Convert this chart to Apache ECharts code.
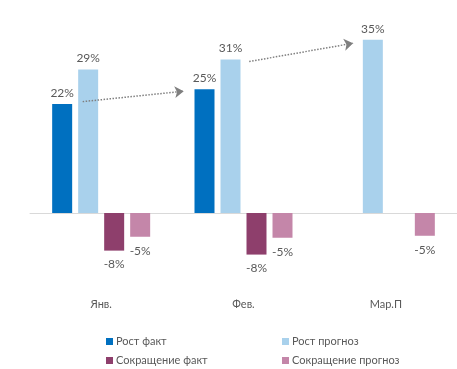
<!DOCTYPE html>
<html>
<head>
<meta charset="utf-8">
<script src="https://cdn.jsdelivr.net/npm/echarts@6/dist/echarts.min.js"></script>
<style>html,body{margin:0;padding:0;background:#fff}#c{width:457px;height:369px}</style>
</head>
<body>
<div id="c"></div>
<script>
var categories = ['Янв.', 'Фев.', 'Мар.П'];
var growthFact = [22, 25, null];
var growthForecast = [29, 31, 35];
var declineFact = [-7.6, -8.4, null];
var declineForecast = [-4.8, -5, -4.6];
var seriesNames = ['Рост факт', 'Рост прогноз', 'Сокращение факт', 'Сокращение прогноз'];
// trend arrows: [categoryPosition, value] (category units, 0..3)
var arrowFrom = [[0.37, 22.5], [1.54, 30.6]];
var arrowTo = [[1.08, 24.6], [2.27, 34.3]];

var colors = ['#0070C0', '#A9D1EC', '#8E3F6C', '#C486A9'];
var txt = '#595959';
var font = 'Lato';

var chart = echarts.init(document.getElementById('c'), null, {renderer: 'canvas'});

function barSeries(name, data, color, neg) {
  return {
    name: name, type: 'bar', data: data, barWidth: 20, barGap: '30%',
    itemStyle: {color: color},
    label: {
      show: true, position: neg ? 'bottom' : 'top', distance: neg ? 8 : 5,
      color: txt, fontSize: 12, fontFamily: font,
      formatter: function (p) { return p.value == null ? '' : Math.round(p.value) + '%'; }
    }
  };
}

var arrows = arrowFrom.map(function (f, i) { return {coords: [f, arrowTo[i]]}; });

var legendPos = [[106, 336], [282, 336], [106, 355], [282, 355]];
var legends = seriesNames.map(function (n, i) {
  return {
    data: [n], left: legendPos[i][0], top: legendPos[i][1], padding: 0,
    itemWidth: 7, itemHeight: 7, icon: 'rect',
    textStyle: {color: txt, fontSize: 11, fontFamily: font, padding: [0, 0, 0, -2]}
  };
});

chart.setOption({
  animation: false,
  grid: {left: 30, right: 0, top: 15, bottom: 106.5},
  xAxis: [{
    type: 'category', data: categories,
    axisLine: {show: true, onZero: true, lineStyle: {color: '#D9D9D9', width: 1}},
    axisTick: {show: false},
    axisLabel: {color: txt, fontSize: 11, fontFamily: font, margin: 36}
  }, {
    type: 'value', min: 0, max: 3, show: false
  }],
  yAxis: {type: 'value', min: -10, max: 40, show: false},
  legend: legends,
  series: [
    barSeries(seriesNames[0], growthFact, colors[0], false),
    barSeries(seriesNames[1], growthForecast, colors[1], false),
    barSeries(seriesNames[2], declineFact, colors[2], true),
    barSeries(seriesNames[3], declineForecast, colors[3], true),
    {
      type: 'lines', coordinateSystem: 'cartesian2d', xAxisIndex: 1, yAxisIndex: 0,
      symbol: ['none', 'arrow'], symbolSize: 9,
      lineStyle: {color: '#7F7F7F', width: 1.5, type: 'dotted', opacity: 1},
      data: arrows, z: 5
    }
  ]
});
</script>
</body>
</html>
